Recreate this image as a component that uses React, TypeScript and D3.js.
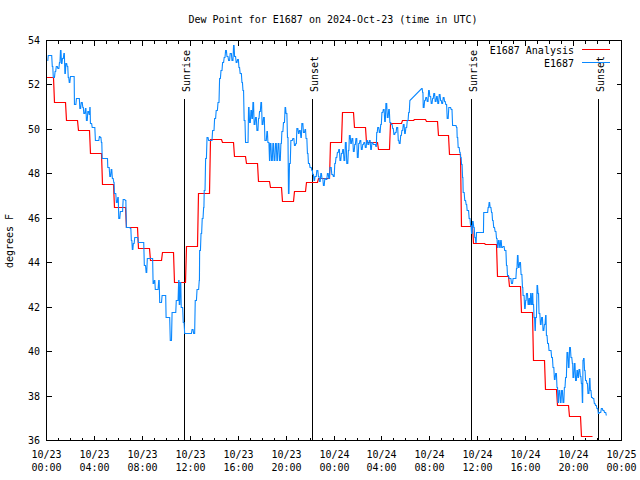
import React from "react";
import * as d3 from "d3";

const title = "Dew Point for E1687 on 2024-Oct-23 (time in UTC)";
const yLabel = "degrees F";
const startUtc = Date.UTC(2024, 9, 23, 0, 0);
const endUtc = Date.UTC(2024, 9, 25, 0, 0);
const yDomain = [36, 54];
const yTicks = [36, 38, 40, 42, 44, 46, 48, 50, 52, 54];

const analysisName = "E1687 Analysis";
const obsName = "E1687";

// hourly analysis values; value i holds until (i*60 + 36) minutes after start
const analysisValues = [
  52.32, 51.22, 50.4, 49.95, 48.9, 47.5, 46.5, 45.57, 44.63, 44.1, 44.45, 43.1,
  44.73, 47.1, 49.53, 49.42, 48.78, 48.45, 47.65, 47.4, 46.75, 47.22, 47.62, 47.78,
  49.42, 50.75, 50.1, 49.42, 49.08, 50.25, 50.4, 50.45, 50.36, 49.72, 48.86, 45.62,
  44.85, 44.8, 43.4, 42.95, 41.75, 39.6, 38.3, 37.57, 37.08, 36.18,
];
const analysisOffsetMin = 36;
const analysisRampMin = 5;

// observation times (minutes after 10/23 00:00 UTC) and dew points
const obsMinutes = [
  4, 9, 29, 34, 43, 49, 57, 65, 70, 75, 80, 87, 92, 97, 104, 109, 114, 120, 137, 140,
  150, 162, 167, 174, 182, 187, 195, 200, 207, 214, 217, 220, 229, 237, 245, 257, 265, 270, 275, 279,
  304, 307, 317, 324, 330, 337, 340, 350, 357, 362, 370, 384, 395, 400, 420, 425, 430, 435, 442, 460,
  484, 490, 499, 505, 529, 534, 540, 545, 562, 567, 579, 595, 599, 612, 620, 629, 645, 650, 662, 665,
  670, 675, 685, 692, 720, 729, 737, 745, 754, 765, 767, 774, 780, 787, 790, 797, 804, 812, 820, 832,
  842, 850, 859, 867, 874, 882, 890, 897, 904, 912, 920, 929, 937, 942, 950, 957, 964, 970, 979, 984,
  990, 997, 1007, 1012, 1017, 1024, 1029, 1034, 1040, 1047, 1054, 1062, 1067, 1074, 1080, 1087, 1094, 1104, 1109, 1117,
  1120, 1127, 1134, 1140, 1147, 1154, 1160, 1167, 1174, 1179, 1187, 1195, 1200, 1207, 1212, 1217, 1224, 1234, 1242, 1249,
  1254, 1262, 1267, 1274, 1279, 1287, 1295, 1300, 1307, 1312, 1320, 1329, 1334, 1340, 1345, 1354, 1362, 1367, 1374, 1380,
  1387, 1394, 1400, 1407, 1414, 1420, 1429, 1437, 1444, 1450, 1457, 1464, 1470, 1477, 1484, 1490, 1497, 1504, 1512, 1517,
  1524, 1530, 1537, 1544, 1550, 1557, 1564, 1570, 1577, 1584, 1590, 1597, 1604, 1610, 1617, 1624, 1630, 1637, 1644, 1650,
  1654, 1659, 1667, 1674, 1680, 1687, 1694, 1700, 1707, 1714, 1720, 1727, 1734, 1740, 1747, 1754, 1762, 1767, 1774, 1780,
  1787, 1794, 1800, 1807, 1814, 1820, 1879, 1884, 1887, 1894, 1900, 1907, 1914, 1920, 1927, 1934, 1940, 1947, 1954, 1960,
  1967, 1974, 1980, 1987, 1994, 2000, 2007, 2015, 2027, 2034, 2054, 2057, 2062, 2070, 2074, 2079, 2084, 2087, 2095, 2102,
  2107, 2117, 2124, 2129, 2134, 2140, 2145, 2150, 2154, 2187, 2190, 2207, 2212, 2217, 2222, 2229, 2234, 2240, 2247, 2254,
  2259, 2264, 2270, 2275, 2280, 2287, 2295, 2304, 2309, 2317, 2329, 2337, 2345, 2354, 2359, 2364, 2370, 2377, 2384, 2387,
  2395, 2400, 2404, 2412, 2417, 2420, 2425, 2429, 2434, 2437, 2442, 2447, 2450, 2457, 2462, 2467, 2474, 2480, 2487, 2494,
  2500, 2504, 2510, 2517, 2524, 2530, 2537, 2544, 2550, 2557, 2562, 2567, 2574, 2580, 2587, 2594, 2600, 2607, 2614, 2620,
  2627, 2634, 2637, 2644, 2650, 2657, 2662, 2667, 2674, 2679, 2684, 2687, 2690, 2695, 2700, 2707, 2712, 2720, 2724, 2730,
  2737, 2744, 2750, 2757, 2764, 2770, 2779, 2787, 2795, 2804,
];
const obsValues = [
  53.1, 53.32, 52.83, 52.35, 52.6, 52.83, 52.75, 53.0, 53.55, 52.95, 53.2, 53.4, 52.5, 52.95, 52.85, 52.35, 52.1, 52.4, 52.4, 51.1,
  51.4, 51.4, 50.95, 51.2, 51.0, 50.7, 50.95, 50.4, 50.8, 50.65, 51.0, 50.25, 50.1, 50.1, 49.5, 49.5, 49.7, 49.65, 49.4, 48.7,
  48.7, 48.3, 47.9, 48.2, 47.8, 47.6, 47.1, 46.73, 46.95, 46.0, 46.3, 46.83, 46.8, 45.6, 45.55, 45.0, 44.58, 44.85, 45.15, 44.9,
  44.9, 43.87, 43.57, 44.17, 44.17, 43.05, 43.2, 42.8, 43.2, 42.22, 42.52, 42.52, 41.55, 41.55, 40.5, 41.77, 41.77, 42.3, 43.2, 42.1,
  43.1, 42.0, 41.32, 40.8, 40.8, 41.0, 40.8, 42.3, 42.8, 43.2, 44.55, 45.3, 45.99, 46.5, 47.25, 48.67, 49.65, 49.5, 49.5, 49.95,
  50.47, 50.85, 51.22, 52.27, 52.65, 53.02, 53.25, 53.55, 53.3, 53.1, 53.4, 53.1, 53.78, 53.3, 53.0, 53.15, 52.8, 52.5, 52.12, 51.75,
  50.4, 49.42, 49.42, 51.0, 50.3, 50.85, 50.47, 51.2, 50.2, 50.55, 49.95, 50.5, 50.8, 51.2, 50.2, 50.55, 49.5, 49.9, 49.42, 48.6,
  49.35, 48.6, 49.35, 48.6, 49.35, 48.6, 49.35, 48.6, 49.35, 49.9, 50.3, 51.0, 50.7, 49.65, 47.1, 48.45, 49.5, 49.58, 49.28, 49.35,
  50.02, 49.8, 49.95, 49.65, 50.25, 49.88, 50.0, 49.6, 48.9, 48.45, 48.3, 48.15, 47.95, 47.7, 47.9, 48.15, 47.88, 47.65, 48.0, 47.8,
  47.47, 47.8, 47.75, 48.0, 47.8, 48.3, 47.95, 47.88, 48.45, 48.75, 48.97, 49.1, 48.6, 48.9, 49.1, 48.6, 49.42, 48.45, 49.05, 49.72,
  49.35, 49.6, 49.0, 49.3, 49.6, 48.75, 49.35, 49.5, 49.1, 49.3, 49.42, 49.2, 49.5, 49.3, 49.5, 49.1, 49.4, 49.3, 49.3, 49.25,
  49.88, 50.1, 49.88, 50.2, 50.77, 50.9, 50.35, 51.15, 50.55, 50.9, 50.3, 50.2, 50.05, 49.75, 49.88, 50.1, 49.5, 49.35, 49.72, 49.95,
  50.2, 49.8, 50.1, 50.4, 50.77, 51.3, 51.82, 51.65, 51.0, 51.3, 51.45, 51.25, 51.75, 51.5, 51.15, 51.4, 51.6, 51.25, 51.5, 51.15,
  51.55, 51.3, 51.15, 51.45, 51.25, 51.1, 50.5, 51.0, 50.9, 50.17, 50.1, 49.65, 49.2, 48.97, 48.75, 48.4, 47.85, 47.17, 46.8, 46.6,
  46.35, 46.0, 45.67, 45.3, 45.85, 45.6, 45.15, 44.9, 45.37, 45.37, 46.27, 46.27, 46.5, 46.73, 46.5, 46.27, 45.9, 45.6, 45.4, 45.1,
  44.7, 45.0, 44.7, 45.0, 44.7, 44.75, 44.55, 43.87, 43.42, 43.3, 43.05, 43.3, 43.3, 43.72, 44.32, 43.77, 44.0, 43.45, 42.9, 42.52,
  41.92, 42.3, 42.6, 42.1, 42.4, 42.1, 42.6, 42.1, 42.6, 42.1, 41.55, 40.95, 41.55, 42.97, 42.6, 41.7, 41.2, 41.55, 40.95, 41.2,
  41.62, 40.72, 40.35, 40.05, 40.05, 39.75, 39.3, 38.75, 39.0, 38.4, 37.72, 38.25, 37.72, 38.25, 37.72, 38.4, 38.85, 39.97, 39.3, 40.2,
  39.75, 39.45, 38.85, 39.45, 38.7, 39.15, 38.85, 39.2, 38.9, 38.55, 37.72, 39.6, 39.67, 39.15, 38.7, 38.55, 38.1, 38.77, 38.25, 37.95,
  37.87, 37.65, 37.57, 37.42, 37.2, 37.27, 37.42, 37.35, 37.27, 37.12,
];

const sunLabels = ["Sunrise", "Sunset", "Sunrise", "Sunset"];
const sunMinutes = [691, 1331, 2131, 2767];

const FONT = "'DejaVu Sans Mono', 'Liberation Mono', monospace";
const RED = "#ff0000";
const BLUE = "#0a88ff";

export default function App() {
  const W = 640;
  const H = 480;
  const left = 46.5, right = 621.5, top = 40.5, bottom = 440.5;

  const x = d3.scaleUtc().domain([new Date(startUtc), new Date(endUtc)]).range([left, right]);
  const y = d3.scaleLinear().domain(yDomain).range([bottom, top]);
  const tm = (m: number) => new Date(startUtc + m * 60000);
  const snap = (v: number) => Math.round(v - 0.5) + 0.5;

  const majorTicks = x.ticks(d3.utcHour.every(4) as any);
  const minorTicks = x.ticks(d3.utcHour.every(1) as any);
  const fmtDate = d3.utcFormat("%m/%d");
  const fmtTime = d3.utcFormat("%H:%M");

  // analysis: hourly values held constant, with a short ramp at each hourly change
  const anPts: [number, number][] = [[0, analysisValues[0]]];
  for (let i = 1; i < analysisValues.length; i++) {
    const t = (i - 1) * 60 + analysisOffsetMin;
    anPts.push([t, analysisValues[i - 1]]);
    anPts.push([t + analysisRampMin, analysisValues[i]]);
  }
  anPts.push([(analysisValues.length - 1) * 60 + analysisOffsetMin, analysisValues[analysisValues.length - 1]]);
  const anLine = d3
    .line<[number, number]>()
    .x((d) => snap(x(tm(d[0]))))
    .y((d) => snap(y(d[1])));

  // observation: held value between close samples (short ramp), straight across data gaps
  const obsPts: [number, number][] = [];
  obsMinutes.forEach((m, i) => {
    obsPts.push([m, obsValues[i]]);
    if (i < obsMinutes.length - 1) {
      const gap = obsMinutes[i + 1] - m;
      if (gap <= 20) obsPts.push([obsMinutes[i + 1] - Math.min(3, gap / 2), obsValues[i]]);
    }
  });
  const obsLine = d3
    .line<[number, number]>()
    .x((d) => x(tm(d[0])))
    .y((d) => snap(y(d[1])));

  return (
    <svg width={W} height={H} style={{ display: "block", position: "absolute", left: 0, top: 0, background: "#fff" }}>
      <rect x={0} y={0} width={W} height={H} fill="#fff" />
      <text x={333} y={23} textAnchor="middle" fontFamily={FONT} fontSize={10} fill="#000">
        {title}
      </text>

      {/* sunrise / sunset */}
      {sunMinutes.map((m, i) => {
        const sx = snap(x(tm(m)));
        return (
          <g key={"sun" + i}>
            <line x1={sx} x2={sx} y1={99} y2={bottom} stroke="#000" strokeWidth={1} shapeRendering="crispEdges" />
            <text
              transform={`translate(${sx + 5},92) rotate(-90)`}
              textAnchor="start"
              fontFamily={FONT}
              fontSize={10}
              fill="#000"
            >
              {sunLabels[i]}
            </text>
          </g>
        );
      })}

      {/* data */}
      <path d={anLine(anPts) || ""} fill="none" stroke={RED} strokeWidth={1.2} />
      <path d={obsLine(obsPts) || ""} fill="none" stroke={BLUE} strokeWidth={1.1} />

      {/* border */}
      <rect x={left} y={top} width={right - left} height={bottom - top} fill="none" stroke="#000" strokeWidth={1} shapeRendering="crispEdges" />

      {/* x ticks */}
      {minorTicks.map((t, i) => {
        const tx = snap(x(t));
        return (
          <g key={"mx" + i}>
            <line x1={tx} x2={tx} y1={bottom} y2={bottom - 3} stroke="#000" shapeRendering="crispEdges" />
            <line x1={tx} x2={tx} y1={top} y2={top + 3} stroke="#000" shapeRendering="crispEdges" />
          </g>
        );
      })}
      {majorTicks.map((t, i) => {
        const tx = snap(x(t));
        return (
          <g key={"Mx" + i}>
            <line x1={tx} x2={tx} y1={bottom} y2={bottom - 5} stroke="#000" shapeRendering="crispEdges" />
            <line x1={tx} x2={tx} y1={top} y2={top + 5} stroke="#000" shapeRendering="crispEdges" />
            <text x={tx} y={458} textAnchor="middle" fontFamily={FONT} fontSize={10} fill="#000">
              {fmtDate(t)}
            </text>
            <text x={tx} y={471} textAnchor="middle" fontFamily={FONT} fontSize={10} fill="#000">
              {fmtTime(t)}
            </text>
          </g>
        );
      })}

      {/* y ticks */}
      {yTicks.map((v, i) => {
        const ty = snap(y(v));
        return (
          <g key={"y" + i}>
            <line x1={left} x2={left + 5} y1={ty} y2={ty} stroke="#000" shapeRendering="crispEdges" />
            <line x1={right} x2={right - 5} y1={ty} y2={ty} stroke="#000" shapeRendering="crispEdges" />
            <text x={40} y={ty + 3.5} textAnchor="end" fontFamily={FONT} fontSize={10} fill="#000">
              {v}
            </text>
          </g>
        );
      })}

      <text transform={`translate(13,241) rotate(-90)`} textAnchor="middle" fontFamily={FONT} fontSize={10} fill="#000">
        {yLabel}
      </text>

      {/* legend */}
      <text x={574} y={53.5} textAnchor="end" fontFamily={FONT} fontSize={10} fill="#000">
        {analysisName}
      </text>
      <line x1={582} x2={610} y1={49.5} y2={49.5} stroke={RED} shapeRendering="crispEdges" />
      <text x={574} y={66.5} textAnchor="end" fontFamily={FONT} fontSize={10} fill="#000">
        {obsName}
      </text>
      <line x1={582} x2={610} y1={62.5} y2={62.5} stroke={BLUE} shapeRendering="crispEdges" />
    </svg>
  );
}
